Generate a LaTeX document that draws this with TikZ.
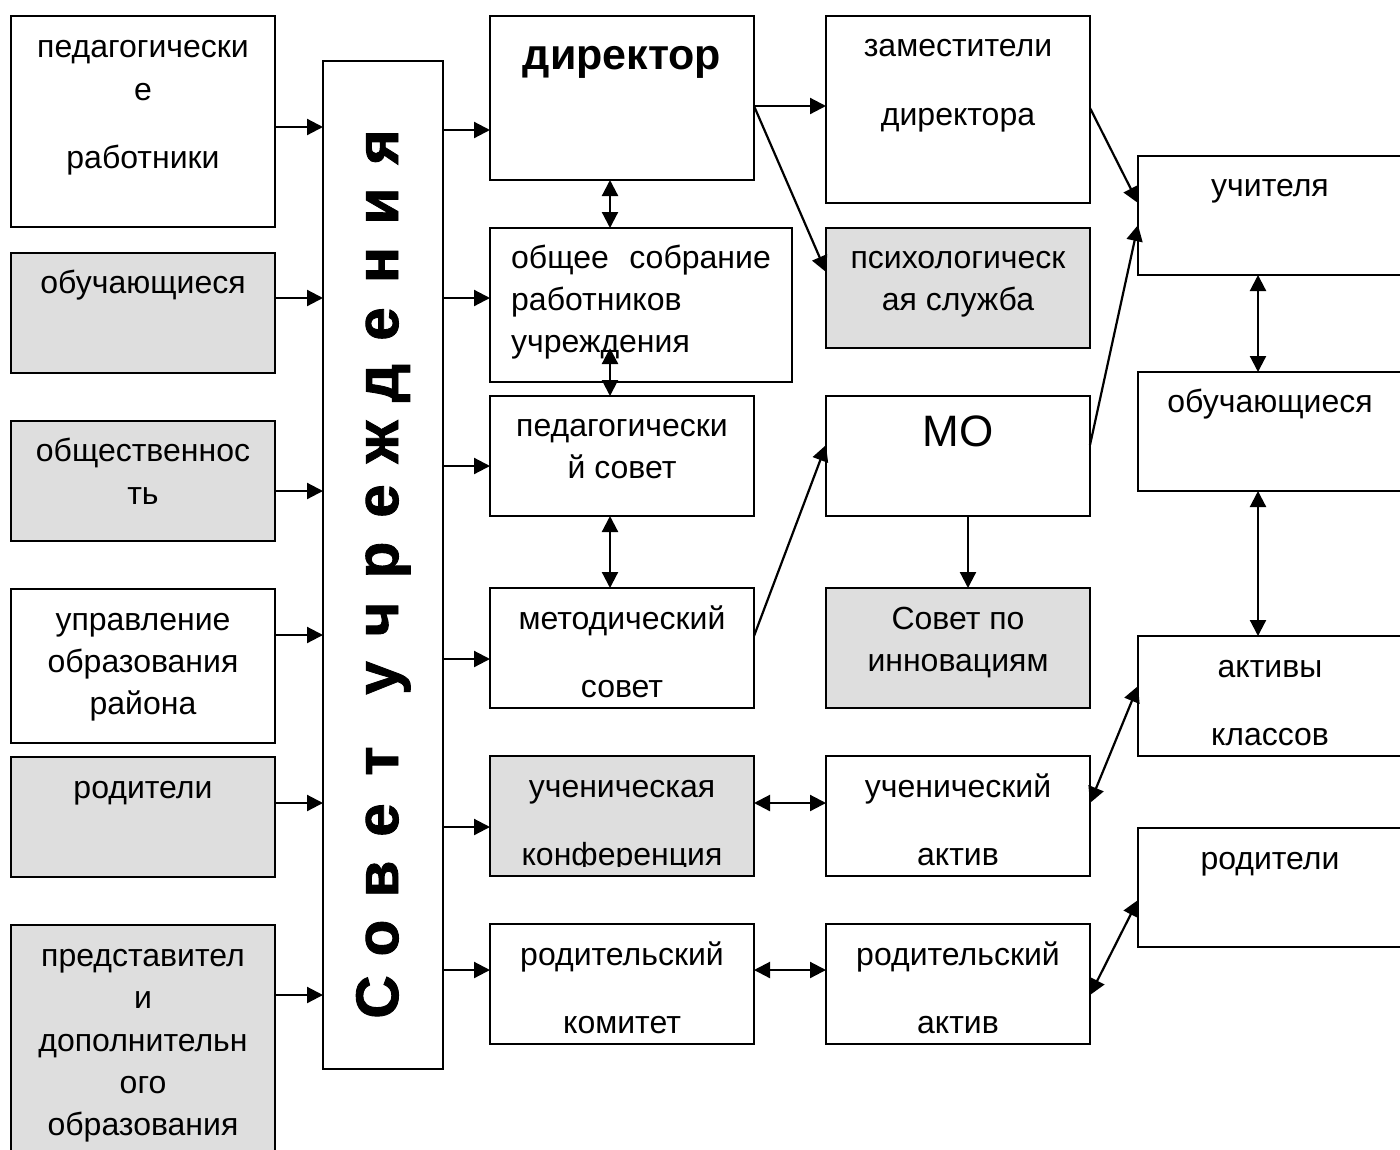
\documentclass[tikz,border=0pt]{standalone}
\usepackage{fontspec}
\setmainfont{Liberation Sans}
\newfontfamily\heavyfont[FakeBold=1.5]{Liberation Sans Bold}
\usetikzlibrary{arrows.meta}
\definecolor{boxgray}{RGB}{222,222,222}
\begin{document}
\begin{tikzpicture}[x=1pt,y=-1pt,
 box/.style={draw=black, line width=1.8pt, fill=white, outer sep=0pt, inner sep=0pt, anchor=north west},
 gbox/.style={box, fill=boxgray},
 txt/.style={font=\fontsize{32}{36}\selectfont, inner sep=0pt, anchor=base},
 arr/.style={line width=2.2pt, -{Triangle[length=16pt,width=16pt]}},
 darr/.style={line width=2.2pt, {Triangle[length=16pt,width=16pt]}-{Triangle[length=16pt,width=16pt]}},
]
\useasboundingbox (0,0) rectangle (1400,1149);
\begin{scope}
\clip (0,0) rectangle (1400,1149);
% left column
\node[box,  minimum width=264pt, minimum height=211pt] (b1) at (11,16) {};
\node[gbox, minimum width=264pt, minimum height=120pt] (b2) at (11,253) {};
\node[gbox, minimum width=264pt, minimum height=120pt] (b3) at (11,421) {};
\node[box,  minimum width=264pt, minimum height=154pt] (b4) at (11,589) {};
\node[gbox, minimum width=264pt, minimum height=120pt] (b5) at (11,757) {};
\node[gbox, minimum width=264pt, minimum height=240pt] (b6) at (11,925) {};
% council column
\node[box, minimum width=120pt, minimum height=1008pt] (sov) at (323,61) {};
% middle column
\node[box,  minimum width=264pt, minimum height=164pt] (dir) at (490,16) {};
\node[box,  minimum width=302pt, minimum height=154pt] (sob) at (490,228) {};
\node[box,  minimum width=264pt, minimum height=120pt] (ped) at (490,396) {};
\node[box,  minimum width=264pt, minimum height=120pt] (met) at (490,588) {};
\node[gbox, minimum width=264pt, minimum height=120pt] (ukf) at (490,756) {};
\node[box,  minimum width=264pt, minimum height=120pt] (rkm) at (490,924) {};
% third column
\node[box,  minimum width=264pt, minimum height=187pt] (zam) at (826,16) {};
\node[gbox, minimum width=264pt, minimum height=120pt] (psy) at (826,228) {};
\node[box,  minimum width=264pt, minimum height=120pt] (mo)  at (826,396) {};
\node[gbox, minimum width=264pt, minimum height=120pt] (inn) at (826,588) {};
\node[box,  minimum width=264pt, minimum height=120pt] (uak) at (826,756) {};
\node[box,  minimum width=264pt, minimum height=120pt] (rak) at (826,924) {};
% right column
\node[box, minimum width=264pt, minimum height=119pt] (uch) at (1138,156) {};
\node[box, minimum width=264pt, minimum height=119pt] (obr) at (1138,372) {};
\node[box, minimum width=264pt, minimum height=120pt] (akl) at (1138,636) {};
\node[box, minimum width=264pt, minimum height=119pt] (rdr) at (1138,828) {};
\end{scope}

% texts left
\node[txt] (t1a) at (143,57) {педагогически};
\node[txt] (t1b) at (143,100) {е};
\node[txt] (t1c) at (143,168) {работники};
\node[txt] (t2) at (143,293) {обучающиеся};
\node[txt] (t3a) at (143,461) {общественнос};
\node[txt] (t3b) at (143,504) {ть};
\node[txt] (t4a) at (143,630) {управление};
\node[txt] (t4b) at (143,672) {образования};
\node[txt] (t4c) at (143,714) {района};
\node[txt] (t5) at (143,798) {родители};
\node[txt] (t6a) at (143,966) {представител};
\node[txt] (t6b) at (143,1008) {и};
\node[txt] (t6c) at (143,1051) {дополнительн};
\node[txt] (t6d) at (143,1093) {ого};
\node[txt] (t6e) at (143,1135) {образования};

% council text
\node[font=\fontsize{60}{62}\heavyfont, rotate=90, anchor=base, inner sep=0pt] (sovt) at (398,572)
 {\makebox[59pt]{С}\makebox[59pt]{о}\makebox[59pt]{в}\makebox[59pt]{е}\makebox[59pt]{т}\hspace{24pt}\makebox[59pt]{у}\makebox[59pt]{ч}\makebox[59pt]{р}\makebox[59pt]{е}\makebox[59pt]{ж}\makebox[59pt]{д}\makebox[59pt]{е}\makebox[59pt]{н}\makebox[59pt]{и}\makebox[59pt]{я}};

% middle texts
\node[txt, font=\fontsize{43}{46}\selectfont\bfseries] (tdir) at (622,69) {директор};
\node[txt, anchor=base west] (tsa) at (511,268) {общее};
\node[txt, anchor=base east] (tsb) at (771,268) {собрание};
\node[txt, anchor=base west] (tsc) at (511,310) {работников};
\node[txt, anchor=base west] (tsd) at (511,352) {учреждения};
\node[txt] (tpa) at (622,436) {педагогически};
\node[txt] (tpb) at (622,478) {й совет};
\node[txt] (tma) at (622,629) {методический};
\node[txt] (tmb) at (622,697) {совет};
\node[txt] (tua) at (622,797) {ученическая};
\begin{scope}
\clip (490,756) rectangle (754,866);
\node[txt] (tub) at (622,865) {конференция};
\end{scope}
\node[txt] (tra) at (622,965) {родительский};
\node[txt] (trb) at (622,1033) {комитет};

% third column texts
\node[txt] (tza) at (958,56) {заместители};
\node[txt] (tzb) at (958,125) {директора};
\node[txt] (tya) at (958,268) {психологическ};
\node[txt] (tyb) at (958,310) {ая служба};
\node[txt, font=\fontsize{44}{48}\selectfont] (tmo) at (958,446) {МО};
\node[txt] (tia) at (958,629) {Совет по};
\node[txt] (tib) at (958,671) {инновациям};
\node[txt] (tka) at (958,797) {ученический};
\node[txt] (tkb) at (958,865) {актив};
\node[txt] (tla) at (958,965) {родительский};
\node[txt] (tlb) at (958,1033) {актив};

% right column texts
\node[txt] (tuc) at (1270,196) {учителя};
\node[txt] (tob) at (1270,412) {обучающиеся};
\node[txt] (taa) at (1270,677) {активы};
\node[txt] (tab) at (1270,745) {классов};
\node[txt] (trd) at (1270,869) {родители};

% arrows left -> council
\draw[arr] (b1.east |- 0,127) -- (sov.west |- 0,127);
\draw[arr] (b2.east |- 0,298) -- (sov.west |- 0,298);
\draw[arr] (b3.east |- 0,491) -- (sov.west |- 0,491);
\draw[arr] (b4.east |- 0,635) -- (sov.west |- 0,635);
\draw[arr] (b5.east |- 0,803) -- (sov.west |- 0,803);
\draw[arr] (b6.east |- 0,995) -- (sov.west |- 0,995);
% council -> middle
\draw[arr] (sov.east |- 0,130) -- (dir.west |- 0,130);
\draw[arr] (sov.east |- 0,298) -- (sob.west |- 0,298);
\draw[arr] (sov.east |- 0,466) -- (ped.west |- 0,466);
\draw[arr] (sov.east |- 0,659) -- (met.west |- 0,659);
\draw[arr] (sov.east |- 0,827) -- (ukf.west |- 0,827);
\draw[arr] (sov.east |- 0,970) -- (rkm.west |- 0,970);
% middle vertical links
\draw[darr] (dir.south -| 610,0) -- (sob.north -| 610,0);
\coordinate (sobin) at (610,348);
\draw[darr] (sobin) -- (ped.north -| 610,0);
\draw[darr] (ped.south -| 610,0) -- (met.north -| 610,0);
% director links
\draw[arr] (dir.east |- 0,106) -- (zam.west |- 0,106);
\draw[arr] (dir.east |- 0,106) -- (psy.west |- 0,272);
\draw[arr] (zam.east |- 0,108) -- (uch.west |- 0,203);
\draw[arr] (mo.east |- 0,445) -- (uch.west |- 0,225);
\draw[arr] (met.east |- 0,636) -- (mo.west |- 0,445);
\draw[arr] (mo.south -| 968,0) -- (inn.north -| 968,0);
% right vertical links
\draw[darr] (uch.south -| 1258,0) -- (obr.north -| 1258,0);
\draw[darr] (obr.south -| 1258,0) -- (akl.north -| 1258,0);
% bottom links
\draw[darr] (ukf.east |- 0,803) -- (uak.west |- 0,803);
\draw[darr] (uak.east |- 0,803) -- (akl.west |- 0,686);
\draw[darr] (rkm.east |- 0,970) -- (rak.west |- 0,970);
\draw[darr] (rak.east |- 0,995) -- (rdr.west |- 0,900);
\end{tikzpicture}
\end{document}
